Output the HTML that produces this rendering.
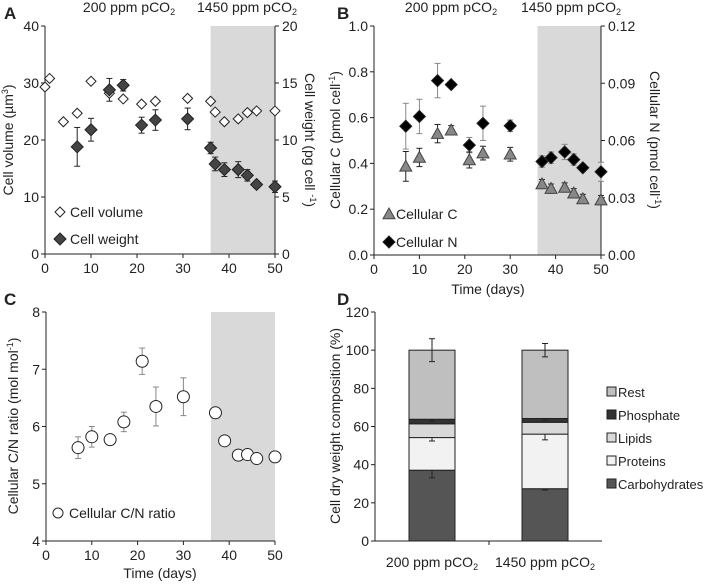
<!DOCTYPE html>
<html><head><meta charset="utf-8"><style>
body{margin:0;background:#fff}
svg{display:block;font-family:"Liberation Sans",sans-serif;font-size:14px;fill:#222}
</style></head><body>
<svg id="s" width="708" height="586" viewBox="0 0 708 586" xmlns="http://www.w3.org/2000/svg"></svg>
<script>
// Panel A
const aDays=[0,1,4,7,10,14,17,21,24,31,36,37,39,42,44,46,50];
const aVolume=[29.3,30.8,23.2,24.7,30.3,28.2,27.2,26.3,26.8,27.3,26.8,24.9,23.2,23.7,24.8,25.1,25.1];
const aWDays=[7,10,14,17,21,24,31,36,37,39,42,44,46,50];
const aWeight=[9.4,10.9,14.4,14.8,11.3,11.75,11.85,9.3,7.9,7.4,7.4,6.9,6.1,5.9];
const aWeightErr=[1.7,1.0,1.0,0.5,0.7,0.9,0.95,0.5,0.6,0.6,0.7,0.5,0.3,0.5];
// Panel B
const bDays=[7,10,14,17,21,24,30,37,39,42,44,46,50];
const bC=[0.387,0.426,0.53,0.545,0.415,0.445,0.44,0.31,0.29,0.295,0.27,0.245,0.24];
const bCErr=[0.065,0.04,0.04,0.02,0.035,0.03,0.03,0.02,0.02,0.02,0.02,0.02,0.02];
const bN=[0.0675,0.0726,0.0914,0.0893,0.0576,0.069,0.0677,0.049,0.051,0.054,0.050,0.0457,0.0436];
const bNErr=[0.012,0.009,0.009,0,0.004,0.009,0.003,0.003,0.003,0.004,0.003,0.002,0.005];
// Panel C
const cDays=[7,10,14,17,21,24,30,37,39,42,44,46,50];
const cRatio=[5.63,5.82,5.77,6.08,7.14,6.35,6.52,6.24,5.75,5.5,5.51,5.44,5.47];
const cErr=[0.19,0.18,0,0.17,0.23,0.34,0.33,0,0,0,0,0,0];
// Panel D
const dCats=["200 ppm pCO2","1450 ppm pCO2"];
const dSeries=["Carbohydrates","Proteins","Lipids","Phosphate","Rest"];
const dCarb=[37.1,27.4];
const dProt=[17.1,28.6];
const dLip=[7.2,6.2];
const dPhos=[2.4,2.0];
const dRest=[36.2,35.8];
const dErrCarb=[4,0.7],dErrProt=[1.8,3],dErrPhos=[1,1],dErrRest=[6,3.5];
const dTicks=[0,20,40,60,80,100,120];

const S=document.getElementById('s');const NS='http://www.w3.org/2000/svg';
function el(t,a,txt){const e=document.createElementNS(NS,t);for(const k in a)e.setAttribute(k,a[k]);if(txt!==undefined)e.textContent=txt;S.appendChild(e);return e;}
function line(x1,y1,x2,y2,c,w){return el('line',{x1,y1,x2,y2,stroke:c||'#222','stroke-width':w||1});}
function txt(x,y,s,anchor,name,extra){const e=el('text',Object.assign({x,y,'text-anchor':anchor||'middle'},extra||{}));e.innerHTML=s;return e;}
function lin(d0,d1,p0,p1){return v=>p0+(v-d0)/(d1-d0)*(p1-p0);}
function diamond(x,y,r,fill,name){const e=el('polygon',{points:`${x},${y-r} ${x+r},${y} ${x},${y+r} ${x-r},${y}`,fill,stroke:'#222','stroke-width':1});return e;}
function tri(x,y,r,name){const e=el('polygon',{points:`${x},${y-r} ${x+r},${y+r*0.8} ${x-r},${y+r*0.8}`,fill:'#888',stroke:'#444','stroke-width':1});return e;}
function err(x,y1,y2,c){line(x,y1,x,y2,c);line(x-3,y1,x+3,y1,c);line(x-3,y2,x+3,y2,c);}
function xAxis(X,y,ticks){ticks.forEach(t=>{line(X(t),y,X(t),y+4);txt(X(t),y+19,t,'middle','x-tick-label');});}
function yAxis(Y,x,ticks,fmt,right){ticks.forEach(t=>{line(right?x:x-4,Y(t),right?x+4:x,Y(t));txt(right?x+7:x-6,Y(t)+5,fmt(t),right?'start':'end','y-tick-label');});}
const co2='pCO<tspan font-size="9" dy="3">2</tspan>';

// ===== Panel A =====
{const X=lin(0,50,45,275),YL=lin(0,40,254,26),YR=lin(0,20,254,26);
let r=el('rect',{x:X(36),y:26,width:X(50)-X(36),height:228,fill:'#d9d9d9'});
line(45,26,45,254);line(275,26,275,254);line(45,254,275,254);
xAxis(X,254,[0,10,20,30,40,50]);yAxis(YL,45,[0,10,20,30,40],t=>t);yAxis(YR,275,[0,5,10,15,20],t=>t,true);
aWDays.forEach((d,i)=>{err(X(d),YR(aWeight[i]+aWeightErr[i]),YR(aWeight[i]-aWeightErr[i]),'#222');});
aDays.forEach((d,i)=>diamond(X(d),YL(aVolume[i]),5,'#fff','cell-volume-point'));
aWDays.forEach((d,i)=>diamond(X(d),YR(aWeight[i]),6,'#444','cell-weight-point'));
txt(4,19,'A','start','panel-a-label',{'font-weight':'bold','font-size':'17'});
txt(129,12,'200 ppm '+co2,'middle','header-200');txt(247,12,'1450 ppm '+co2,'middle','header-1450');
txt(0,0,'Cell volume (µm<tspan font-size="9" dy="-5">3</tspan><tspan dy="5">)</tspan>','middle','y-axis-title-left',{transform:'translate(13,140) rotate(-90)'});
txt(0,0,'Cell weight (pg cell <tspan font-size="9" dy="-5">-1</tspan><tspan dy="5">)</tspan>','middle','y-axis-title-right',{transform:'translate(305,140) rotate(90)'});
diamond(60,212,5,'#fff','legend-cell-volume');txt(70,217,'Cell volume','start','legend-label');
diamond(60,239,6,'#444','legend-cell-weight');txt(70,244,'Cell weight','start','legend-label');}

// ===== Panel B =====
{const X=lin(0,50,374,601),YL=lin(0,1,255,26),YR=lin(0,0.12,255,26);
let r=el('rect',{x:X(36),y:26,width:X(50)-X(36),height:229,fill:'#d9d9d9'});
line(374,26,374,255);line(601,26,601,255);line(374,255,601,255);
xAxis(X,255,[0,10,20,30,40,50]);yAxis(YL,374,[0,0.2,0.4,0.6,0.8,1.0],t=>t.toFixed(1));yAxis(YR,601,[0,0.03,0.06,0.09,0.12],t=>t.toFixed(2),true);
bDays.forEach((d,i)=>{if(bNErr[i])err(X(d),YR(bN[i]+bNErr[i]),YR(bN[i]-bNErr[i]),'#888');});
bDays.forEach((d,i)=>{err(X(d),YL(bC[i]+bCErr[i]),YL(bC[i]-bCErr[i]),'#222');});
bDays.forEach((d,i)=>tri(X(d),YL(bC[i]),6,'cellular-c-point'));
bDays.forEach((d,i)=>diamond(X(d),YR(bN[i]),6,'#000','cellular-n-point'));
txt(337,19,'B','start','panel-b-label',{'font-weight':'bold','font-size':'17'});
txt(451,12,'200 ppm '+co2,'middle','header-200');txt(571,12,'1450 ppm '+co2,'middle','header-1450');
txt(0,0,'Cellular C (pmol cell<tspan font-size="9" dy="-5">-1</tspan><tspan dy="5">)</tspan>','middle','y-axis-title-left',{transform:'translate(340,140) rotate(-90)'});
txt(0,0,'Cellular N (pmol cell<tspan font-size="9" dy="-5">-1</tspan><tspan dy="5">)</tspan>','middle','y-axis-title-right',{transform:'translate(650,140) rotate(90)'});
txt(488,294,'Time (days)','middle','x-axis-title');
tri(389,214,6,'legend-cellular-c');txt(396,219,'Cellular C','start','legend-label');
diamond(389,242,6,'#000','legend-cellular-n');txt(396,247,'Cellular N','start','legend-label');}

// ===== Panel C =====
{const X=lin(0,50,46,275),Y=lin(4,8,541,312);
let r=el('rect',{x:X(36),y:312,width:X(50)-X(36),height:229,fill:'#d9d9d9'});
line(46,312,46,541);line(46,541,275,541);
xAxis(X,541,[0,10,20,30,40,50]);yAxis(Y,46,[4,5,6,7,8],t=>t);
cDays.forEach((d,i)=>{if(cErr[i])err(X(d),Y(cRatio[i]+cErr[i]),Y(cRatio[i]-cErr[i]),'#888');});
cDays.forEach((d,i)=>{const e=el('circle',{cx:X(d),cy:Y(cRatio[i]),r:6,fill:'#fff',stroke:'#222'});});
txt(4,305,'C','start','panel-c-label',{'font-weight':'bold','font-size':'17'});
txt(0,0,'Cellular C/N ratio (mol mol<tspan font-size="9" dy="-5">-1</tspan><tspan dy="5">)</tspan>','middle','y-axis-title',{transform:'translate(18,426) rotate(-90)'});
txt(160,578,'Time (days)','middle','x-axis-title');
const lc=el('circle',{cx:58,cy:513,r:5,fill:'#fff',stroke:'#222'});
txt(69,518,'Cellular C/N ratio','start','legend-label');}

// ===== Panel D =====
{const Y=lin(0,120,541,312);const bx=[409,522],bw=46;
const cols=['#555','#f2f2f2','#d9d9d9','#333','#bfbfbf'];const vals=[dCarb,dProt,dLip,dPhos,dRest];const errs=[dErrCarb,dErrProt,null,dErrPhos,dErrRest];
line(375,312,375,541);line(375,541,602,541);line(489,541,489,545);
yAxis(Y,375,dTicks,t=>t);
dCats.forEach((c,i)=>{let base=0;vals.forEach((v,k)=>{const r=el('rect',{x:bx[i],y:Y(base+v[i]),width:bw,height:Y(base)-Y(base+v[i]),fill:cols[k],stroke:'#222','stroke-width':1});base+=v[i];
 if(errs[k])err(bx[i]+bw/2,Y(base+errs[k][i]),Y(base-errs[k][i]),'#222');});
 txt(bx[i]+bw/2,567,c.replace('pCO2',co2),'middle','x-category-label');});
txt(337,305,'D','start','panel-d-label',{'font-weight':'bold','font-size':'17'});
txt(0,0,'Cell dry weight composition (%)','middle','y-axis-title',{transform:'translate(340,426) rotate(-90)'});
const lg=[4,3,2,1,0];lg.forEach((k,j)=>{const y=392+j*23;const r=el('rect',{x:607,y:y-5,width:9,height:9,fill:cols[k],stroke:'#222'});txt(618,y+5,dSeries[k],'start','legend-label',{'font-size':'13'});});}
</script>
</body></html>
